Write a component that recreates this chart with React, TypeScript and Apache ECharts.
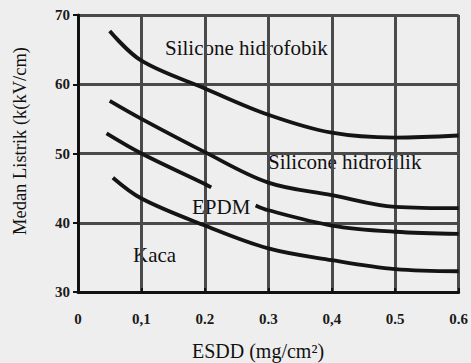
import React, { useEffect, useRef } from "react";
import * as echarts from "echarts";

const xTickLabels = ["0", "0,1", "0.2", "0.3", "0,4", "0.5", "0.6"];
const yTickLabels = ["30", "40", "50", "60", "70"];

const hidrofobikX = [0.05, 0.1, 0.2, 0.3, 0.4, 0.5, 0.6];
const hidrofobikY = [67.7, 63.4, 59.4, 55.6, 53.0, 52.3, 52.6];

const hidrofilikX = [0.05, 0.1, 0.2, 0.3, 0.4, 0.5, 0.6];
const hidrofilikY = [57.6, 55.0, 50.2, 45.8, 44.0, 42.3, 42.1];

const epdmX = [0.045, 0.1, 0.2, 0.21, 0.25, 0.28, 0.3, 0.4, 0.5, 0.6];
const epdmY = [52.9, 50.0, 45.6, 45.1, null, 42.5, 41.8, 39.6, 38.7, 38.4];

const kacaX = [0.055, 0.1, 0.2, 0.3, 0.4, 0.5, 0.6];
const kacaY = [46.5, 43.5, 39.6, 36.3, 34.6, 33.3, 33.0];

const seriesNames = ["Silicone hidrofobik", "Silicone hidrofilik", "EPDM", "Kaca"];

const pairs = (xs: number[], ys: (number | null)[]) =>
  xs.map((x, i) => [x, ys[i] === null ? "-" : ys[i]]);

const FONT = "'Liberation Serif', 'DejaVu Serif', serif";

export default function App() {
  const ref = useRef<HTMLDivElement>(null);
  useEffect(() => {
    if (!ref.current) return;
    const chart = echarts.init(ref.current, undefined, { renderer: "svg" });
    const mk = (name: string, data: any[]) => ({
      name,
      type: "line",
      data,
      smooth: 0.35,
      showSymbol: false,
      symbol: "none",
      connectNulls: false,
      lineStyle: { color: "#141414", width: 3.8 },
    });
    chart.setOption({
      animation: false,
      grid: { left: 78, top: 15, right: 9, bottom: 71 },
      xAxis: {
        type: "value",
        min: 0,
        max: 0.6,
        interval: 0.1,
        axisLine: { show: true, lineStyle: { color: "#111111", width: 3 } },
        axisTick: { show: true, inside: true, length: 4, lineStyle: { color: "#111111", width: 2 } },
        splitLine: { show: true, lineStyle: { color: "#4a4a4a", width: 3 } },
        axisLabel: {
          margin: 19,
          fontFamily: FONT,
          fontWeight: "bold",
          fontSize: 15,
          color: "#1a1a1a",
          formatter: (v: number) => xTickLabels[Math.round(v * 10)],
        },
      },
      yAxis: {
        type: "value",
        min: 30,
        max: 70,
        interval: 10,
        axisLine: { show: true, lineStyle: { color: "#111111", width: 3 } },
        axisTick: { show: true, length: 5, lineStyle: { color: "#111111", width: 2 } },
        splitLine: { show: true, lineStyle: { color: "#4a4a4a", width: 3 } },
        axisLabel: {
          margin: 8,
          fontFamily: FONT,
          fontWeight: "bold",
          fontSize: 15,
          color: "#1a1a1a",
          formatter: (v: number) => yTickLabels[Math.round((v - 30) / 10)],
        },
      },
      series: [
        mk(seriesNames[0], pairs(hidrofobikX, hidrofobikY)),
        mk(seriesNames[1], pairs(hidrofilikX, hidrofilikY)),
        mk(seriesNames[2], pairs(epdmX, epdmY)),
        mk(seriesNames[3], pairs(kacaX, kacaY)),
      ],
      graphic: [
        { type: "text", left: 165, top: 37, style: { text: seriesNames[0], font: `21px ${FONT}`, fill: "#111" } },
        { type: "text", left: 268, top: 151, style: { text: seriesNames[1], font: `21px ${FONT}`, fill: "#111" } },
        { type: "text", left: 192, top: 196, style: { text: seriesNames[2], font: `21px ${FONT}`, fill: "#111" } },
        { type: "text", left: 133, top: 244, style: { text: seriesNames[3], font: `21px ${FONT}`, fill: "#111" } },
        {
          type: "text",
          x: 20,
          y: 141,
          rotation: Math.PI / 2,
          style: { text: "Medan Listrik (k(kV/cm)", font: `18.5px ${FONT}`, fill: "#111", align: "center", verticalAlign: "middle" },
        },
        {
          type: "text",
          x: 258,
          y: 351,
          style: { text: "ESDD (mg/cm²)", font: `20px ${FONT}`, fill: "#111", align: "center", verticalAlign: "middle" },
        },
      ],
    });
    return () => chart.dispose();
  }, []);
  return (
    <div ref={ref} style={{ position: "fixed", left: 0, top: 0, width: 471, height: 363, background: "#eeeeee" }} />
  );
}
